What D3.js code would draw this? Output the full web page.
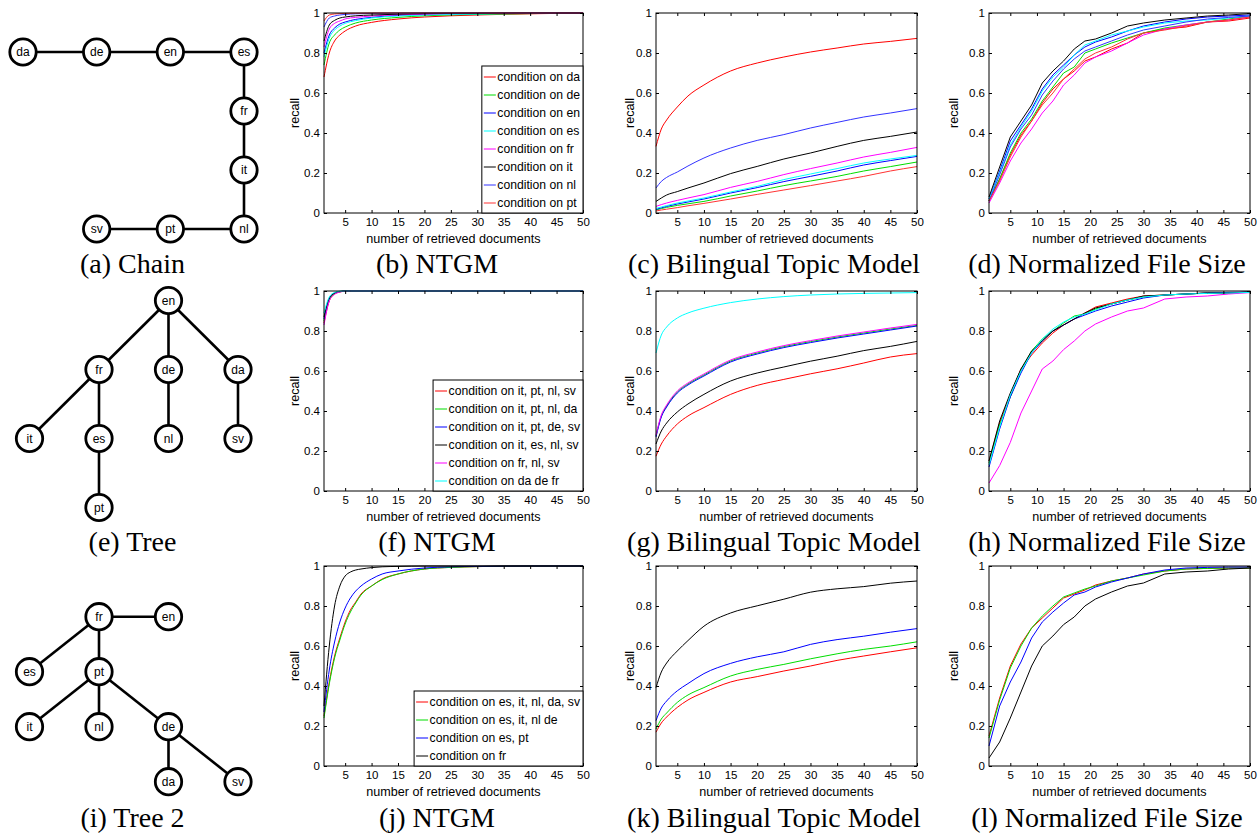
<!DOCTYPE html>
<html>
<head>
<meta charset="utf-8">
<script src="https://cdn.jsdelivr.net/npm/d3@7"></script>
<style>body{margin:0;background:#fff}</style>
</head>
<body>
<script>
// ---- data ----
const xTicks = [5, 10, 15, 20, 25, 30, 35, 40, 45, 50];
const yTicks = [0, 0.2, 0.4, 0.6, 0.8, 1];
const yTickLabels = ["0", "0.2", "0.4", "0.6", "0.8", "1"];

const captions = [
  ["(a) Chain", "(b) NTGM", "(c) Bilingual Topic Model", "(d) Normalized File Size"],
  ["(e) Tree", "(f) NTGM", "(g) Bilingual Topic Model", "(h) Normalized File Size"],
  ["(i) Tree 2", "(j) NTGM", "(k) Bilingual Topic Model", "(l) Normalized File Size"]
];

// language graphs
const chainNodes = ["da", "de", "en", "es", "fr", "it", "nl", "pt", "sv"];
const chainCol = [0, 1, 2, 3, 3, 3, 3, 2, 1];
const chainRow = [0, 0, 0, 0, 1, 2, 3, 3, 3];
const chainEdges = [["da", "de"], ["de", "en"], ["en", "es"], ["es", "fr"], ["fr", "it"], ["it", "nl"], ["nl", "pt"], ["pt", "sv"]];

const treeNodes = ["en", "fr", "de", "da", "it", "es", "nl", "sv", "pt"];
const treeCol = [2, 1, 2, 3, 0, 1, 2, 3, 1];
const treeRow = [0, 1, 1, 1, 2, 2, 2, 2, 3];
const treeEdges = [["en", "fr"], ["en", "de"], ["en", "da"], ["fr", "it"], ["fr", "es"], ["de", "nl"], ["da", "sv"], ["es", "pt"]];

const tree2Nodes = ["fr", "en", "es", "pt", "it", "nl", "de", "da", "sv"];
const tree2Col = [1, 2, 0, 1, 0, 1, 2, 2, 3];
const tree2Row = [0, 0, 1, 1, 2, 2, 2, 3, 3];
const tree2Edges = [["fr", "en"], ["fr", "es"], ["fr", "pt"], ["pt", "it"], ["pt", "nl"], ["pt", "de"], ["de", "da"], ["de", "sv"]];

// legend labels
const chainLabels = ["condition on da", "condition on de", "condition on en", "condition on es",
  "condition on fr", "condition on it", "condition on nl", "condition on pt"];
const treeLabels = ["condition on it, pt, nl, sv", "condition on it, pt, nl, da", "condition on it, pt, de, sv",
  "condition on it, es, nl, sv", "condition on fr, nl, sv", "condition on da de fr"];
const tree2Labels = ["condition on es, it, nl, da, sv", "condition on es, it, nl de", "condition on es, pt", "condition on fr"];

// x samples
const xsNtgm = [1, 2, 3, 4, 5, 7, 10, 15, 20, 30, 40, 50];
const xsNtgmTree = [1, 2, 3, 4, 5, 6, 8, 10, 20, 50];
const xsNtgmTree2 = [1, 2, 3, 4, 5, 6, 7, 8, 10, 12, 15, 20, 25, 30, 40, 50];
const xsBtm = [1, 2, 3, 5, 7, 10, 15, 20, 25, 30, 35, 40, 45, 50];
const xsFile = [1, 3, 5, 7, 9, 11, 13, 15, 17, 19, 21, 24, 27, 30, 34, 38, 42, 46, 50];

// (b) NTGM, chain
const ntgmChain = [
  [0.68, 0.80, 0.86, 0.89, 0.91, 0.935, 0.953, 0.97, 0.98, 0.99, 0.996, 1.0],
  [0.74, 0.85, 0.89, 0.915, 0.93, 0.95, 0.965, 0.978, 0.986, 0.993, 0.997, 1.0],
  [0.80, 0.89, 0.925, 0.945, 0.955, 0.968, 0.978, 0.988, 0.993, 0.997, 0.999, 1.0],
  [0.78, 0.875, 0.915, 0.935, 0.948, 0.962, 0.975, 0.985, 0.99, 0.995, 0.998, 1.0],
  [0.83, 0.92, 0.948, 0.96, 0.97, 0.978, 0.985, 0.991, 0.995, 0.998, 0.999, 1.0],
  [0.86, 0.94, 0.963, 0.975, 0.98, 0.986, 0.99, 0.994, 0.997, 0.999, 1.0, 1.0],
  [0.93, 0.975, 0.985, 0.99, 0.993, 0.996, 0.998, 0.999, 1.0, 1.0, 1.0, 1.0],
  [0.96, 0.99, 0.995, 0.997, 0.998, 0.999, 1.0, 1.0, 1.0, 1.0, 1.0, 1.0]
];
// (c) Bilingual Topic Model, chain
const btmChain = [
  [0.333, 0.42, 0.465, 0.53, 0.585, 0.64, 0.71, 0.75, 0.78, 0.805, 0.825, 0.845, 0.858, 0.873],
  [0.015, 0.022, 0.028, 0.038, 0.046, 0.058, 0.085, 0.11, 0.137, 0.16, 0.183, 0.21, 0.232, 0.255],
  [0.018, 0.026, 0.033, 0.045, 0.055, 0.07, 0.1, 0.127, 0.157, 0.183, 0.21, 0.24, 0.262, 0.283],
  [0.023, 0.03, 0.037, 0.05, 0.06, 0.075, 0.105, 0.133, 0.167, 0.195, 0.222, 0.25, 0.27, 0.288],
  [0.033, 0.042, 0.05, 0.063, 0.075, 0.092, 0.128, 0.158, 0.192, 0.222, 0.25, 0.28, 0.303, 0.328],
  [0.058, 0.075, 0.09, 0.107, 0.125, 0.15, 0.197, 0.233, 0.27, 0.3, 0.333, 0.363, 0.383, 0.405],
  [0.125, 0.158, 0.178, 0.205, 0.235, 0.275, 0.325, 0.363, 0.392, 0.425, 0.453, 0.48, 0.5, 0.522],
  [0.01, 0.015, 0.019, 0.027, 0.036, 0.048, 0.07, 0.093, 0.115, 0.137, 0.16, 0.183, 0.21, 0.232]
];
// (d) Normalized File Size, chain
const fileChain = [
  [0.06, 0.17, 0.29, 0.39, 0.46, 0.55, 0.62, 0.67, 0.71, 0.76, 0.78, 0.82, 0.85, 0.9, 0.92, 0.93, 0.955, 0.96, 0.975],
  [0.06, 0.17, 0.3, 0.4, 0.47, 0.56, 0.63, 0.7, 0.73, 0.8, 0.82, 0.85, 0.875, 0.9, 0.925, 0.94, 0.955, 0.97, 0.985],
  [0.07, 0.21, 0.36, 0.44, 0.52, 0.62, 0.69, 0.74, 0.79, 0.83, 0.855, 0.88, 0.91, 0.935, 0.955, 0.97, 0.98, 0.985, 0.99],
  [0.07, 0.2, 0.34, 0.43, 0.51, 0.61, 0.68, 0.73, 0.79, 0.84, 0.86, 0.89, 0.91, 0.93, 0.95, 0.96, 0.965, 0.975, 0.985],
  [0.05, 0.15, 0.26, 0.35, 0.42, 0.5, 0.56, 0.64, 0.69, 0.75, 0.78, 0.81, 0.85, 0.89, 0.92, 0.94, 0.955, 0.965, 0.98],
  [0.08, 0.23, 0.38, 0.46, 0.54, 0.65, 0.71, 0.76, 0.82, 0.86, 0.87, 0.9, 0.935, 0.95, 0.965, 0.975, 0.985, 0.99, 0.997],
  [0.06, 0.19, 0.33, 0.42, 0.49, 0.59, 0.66, 0.72, 0.77, 0.81, 0.83, 0.86, 0.89, 0.915, 0.935, 0.955, 0.97, 0.978, 0.985],
  [0.06, 0.16, 0.28, 0.38, 0.46, 0.54, 0.6, 0.67, 0.72, 0.77, 0.8, 0.83, 0.87, 0.9, 0.915, 0.935, 0.955, 0.965, 0.98]
];
// (f) NTGM, tree
const ntgmTree = [
  [0.84, 0.95, 0.985, 0.995, 1, 1, 1, 1, 1, 1],
  [0.85, 0.955, 0.987, 0.996, 1, 1, 1, 1, 1, 1],
  [0.86, 0.96, 0.99, 0.997, 1, 1, 1, 1, 1, 1],
  [0.87, 0.965, 0.99, 0.998, 1, 1, 1, 1, 1, 1],
  [0.83, 0.95, 0.983, 0.995, 0.999, 1, 1, 1, 1, 1],
  [0.89, 0.97, 0.993, 0.999, 1, 1, 1, 1, 1, 1]
];
// (g) Bilingual Topic Model, tree
const btmTree = [
  [0.174, 0.235, 0.275, 0.335, 0.375, 0.417, 0.483, 0.528, 0.558, 0.586, 0.611, 0.64, 0.67, 0.687],
  [0.275, 0.375, 0.425, 0.495, 0.535, 0.58, 0.65, 0.69, 0.722, 0.747, 0.77, 0.79, 0.81, 0.828],
  [0.27, 0.37, 0.42, 0.49, 0.53, 0.575, 0.645, 0.685, 0.717, 0.742, 0.765, 0.785, 0.805, 0.825],
  [0.235, 0.3, 0.34, 0.395, 0.435, 0.483, 0.55, 0.59, 0.62, 0.649, 0.674, 0.702, 0.723, 0.748],
  [0.28, 0.38, 0.43, 0.5, 0.54, 0.585, 0.655, 0.695, 0.727, 0.752, 0.775, 0.795, 0.815, 0.833],
  [0.69, 0.78, 0.82, 0.865, 0.89, 0.914, 0.942, 0.96, 0.972, 0.98, 0.985, 0.988, 0.99, 0.992]
];
// (h) Normalized File Size, tree
const fileTree = [
  [0.15, 0.34, 0.48, 0.61, 0.68, 0.74, 0.79, 0.83, 0.86, 0.89, 0.92, 0.94, 0.96, 0.975, 0.98, 0.985, 0.99, 0.99, 0.995],
  [0.14, 0.33, 0.47, 0.6, 0.7, 0.76, 0.8, 0.84, 0.875, 0.885, 0.91, 0.935, 0.955, 0.97, 0.98, 0.985, 0.99, 0.99, 0.995],
  [0.12, 0.31, 0.47, 0.59, 0.69, 0.75, 0.8, 0.83, 0.86, 0.88, 0.9, 0.925, 0.945, 0.965, 0.98, 0.985, 0.99, 0.993, 0.995],
  [0.15, 0.35, 0.49, 0.61, 0.7, 0.75, 0.8, 0.83, 0.86, 0.89, 0.915, 0.935, 0.955, 0.975, 0.98, 0.985, 0.99, 0.99, 0.995],
  [0.04, 0.127, 0.243, 0.39, 0.5, 0.61, 0.65, 0.707, 0.75, 0.8, 0.835, 0.87, 0.9, 0.915, 0.96, 0.97, 0.975, 0.985, 0.992],
  [0.13, 0.32, 0.48, 0.6, 0.69, 0.76, 0.81, 0.845, 0.87, 0.885, 0.905, 0.935, 0.955, 0.97, 0.98, 0.985, 0.988, 0.99, 0.993]
];
// (j) NTGM, tree 2
const ntgmTree2 = [
  [0.25, 0.42, 0.55, 0.64, 0.72, 0.78, 0.82, 0.86, 0.9, 0.935, 0.96, 0.985, 0.993, 0.997, 1, 1],
  [0.24, 0.41, 0.54, 0.63, 0.71, 0.77, 0.815, 0.855, 0.9, 0.932, 0.96, 0.985, 0.993, 0.997, 1, 1],
  [0.27, 0.48, 0.62, 0.72, 0.79, 0.84, 0.875, 0.9, 0.935, 0.96, 0.975, 0.99, 0.996, 0.998, 1, 1],
  [0.3, 0.6, 0.8, 0.9, 0.95, 0.97, 0.98, 0.985, 0.992, 0.996, 0.998, 1, 1, 1, 1, 1]
];
// (k) Bilingual Topic Model, tree 2
const btmTree2 = [
  [0.169, 0.215, 0.245, 0.293, 0.33, 0.368, 0.42, 0.447, 0.475, 0.5, 0.528, 0.55, 0.571, 0.591],
  [0.185, 0.235, 0.265, 0.318, 0.355, 0.392, 0.45, 0.483, 0.508, 0.536, 0.561, 0.583, 0.6, 0.621],
  [0.227, 0.29, 0.325, 0.376, 0.412, 0.462, 0.513, 0.546, 0.571, 0.608, 0.632, 0.649, 0.669, 0.687],
  [0.392, 0.47, 0.515, 0.575, 0.627, 0.699, 0.765, 0.801, 0.834, 0.869, 0.886, 0.897, 0.914, 0.925]
];
// (l) Normalized File Size, tree 2
const fileTree2 = [
  [0.15, 0.34, 0.5, 0.61, 0.69, 0.74, 0.79, 0.84, 0.86, 0.88, 0.905, 0.925, 0.94, 0.96, 0.975, 0.985, 0.988, 0.99, 0.99],
  [0.14, 0.33, 0.49, 0.6, 0.69, 0.75, 0.8, 0.845, 0.865, 0.885, 0.9, 0.925, 0.94, 0.955, 0.975, 0.985, 0.988, 0.99, 0.99],
  [0.1, 0.3, 0.42, 0.52, 0.64, 0.72, 0.77, 0.815, 0.855, 0.87, 0.895, 0.92, 0.94, 0.96, 0.98, 0.99, 0.993, 0.995, 0.995],
  [0.04, 0.12, 0.24, 0.37, 0.5, 0.6, 0.65, 0.707, 0.745, 0.8, 0.835, 0.87, 0.9, 0.915, 0.96, 0.97, 0.975, 0.985, 0.99]
];

// ---- styles / layout ----
const chainColors = ["#ff0000", "#00dd00", "#0000ff", "#00ffff", "#ff00ff", "#000000", "#3333ff", "#ff3333"];
const treeColors = ["#ff0000", "#00dd00", "#0000ff", "#000000", "#ff00ff", "#00ffff"];
const tree2Colors = ["#ff0000", "#00dd00", "#0000ff", "#000000"];

const W = 1258, H = 835;
const colX = [[324, 583], [656, 917], [989, 1250]];
const rowTop = [13, 291, 566];
const plotH = 200;
const ylabOff = [25.5, 22.5, 31.5];
const capX = [132.5, 437, 774, 1107];
const capY = [273, 551, 827];
const sans = "'Liberation Sans', Arial, Helvetica, sans-serif";

const svg = d3.select("body").append("svg")
  .attr("width", W).attr("height", H)
  .style("font-family", sans);
svg.append("rect").attr("width", W).attr("height", H).attr("fill", "#fff");

function chart(row, col, xs, values, colors, labels, curve) {
  const [x0, x1] = colX[col];
  const top = rowTop[row], bottom = top + plotH;
  const x = d3.scaleLinear().domain([1, 50]).range([x0, x1]);
  const y = d3.scaleLinear().domain([0, 1]).range([bottom, top]);
  const g = svg.append("g");

  const line = d3.line().x(d => x(d[0])).y(d => y(d[1])).curve(curve);
  values.forEach((v, i) => {
    g.append("path")
      .datum(d3.zip(xs, v))
      .attr("d", line)
      .attr("fill", "none")
      .attr("stroke", colors[i])
      .attr("stroke-width", 1);
  });

  const styleAxis = a => {
    a.select(".domain").remove();
    a.attr("font-family", null).attr("font-size", null);
    a.selectAll("line").attr("stroke", "#000");
    a.selectAll("text").attr("fill", "#000").style("font-size", "11.5px");
  };

  g.append("g").attr("transform", `translate(0,${bottom})`)
    .call(d3.axisBottom(x).tickValues(xTicks).tickSize(-3).tickPadding(5))
    .call(styleAxis);
  g.append("g").attr("transform", `translate(0,${top})`)
    .call(d3.axisTop(x).tickValues(xTicks).tickSize(-3).tickFormat(""))
    .call(styleAxis);
  g.append("g").attr("transform", `translate(${x0},0)`)
    .call(d3.axisLeft(y).tickValues(yTicks).tickSize(-3).tickPadding(4)
      .tickFormat((d, i) => yTickLabels[i]))
    .call(styleAxis);
  g.append("g").attr("transform", `translate(${x1},0)`)
    .call(d3.axisRight(y).tickValues(yTicks).tickSize(-3).tickFormat(""))
    .call(styleAxis);

  g.append("rect")
    .attr("x", x0).attr("y", top).attr("width", x1 - x0).attr("height", plotH)
    .attr("fill", "none").attr("stroke", "#000").attr("stroke-width", 1);

  g.append("text")
    .attr("x", (x0 + x1) / 2).attr("y", bottom + 30)
    .attr("text-anchor", "middle").style("font-size", "12.6px")
    .text("number of retrieved documents");
  g.append("text")
    .attr("transform", `translate(${x0 - ylabOff[col]},${(top + bottom) / 2}) rotate(-90)`)
    .attr("text-anchor", "middle").style("font-size", "12.6px")
    .text("recall");

  if (labels) {
    const lg = g.append("g");
    const box = lg.append("rect");
    const texts = lg.selectAll("text").data(labels).join("text")
      .style("font-size", "12.2px")
      .attr("dy", "0.35em")
      .text(d => d);
    let tw = 0;
    texts.each(function () { tw = Math.max(tw, this.getComputedTextLength()); });
    const bx = x1 - tw - 18.5;
    const bh = labels.length * 18 + 3;
    const by = bottom - bh;
    box.attr("x", bx).attr("y", by).attr("width", x1 - bx).attr("height", bh)
      .attr("fill", "#fff").attr("stroke", "#000").attr("stroke-width", 1);
    texts.attr("x", bx + 15.5).attr("y", (d, i) => by + 11 + 18 * i);
    lg.selectAll("line").data(labels).join("line")
      .attr("x1", bx + 2).attr("x2", bx + 14)
      .attr("y1", (d, i) => by + 11 + 18 * i).attr("y2", (d, i) => by + 11 + 18 * i)
      .attr("stroke", (d, i) => colors[i]).attr("stroke-width", 1);
  }
}

function graph(nodes, cols, rows, edges, xr, yr) {
  const x = d3.scaleLinear().domain([0, 3]).range(xr);
  const y = d3.scaleLinear().domain([0, 3]).range(yr);
  const pos = {};
  nodes.forEach((n, i) => { pos[n] = [x(cols[i]), y(rows[i])]; });
  const g = svg.append("g");
  g.selectAll("line").data(edges).join("line")
    .attr("x1", d => pos[d[0]][0]).attr("y1", d => pos[d[0]][1])
    .attr("x2", d => pos[d[1]][0]).attr("y2", d => pos[d[1]][1])
    .attr("stroke", "#000").attr("stroke-width", 2.6);
  const ng = g.selectAll("g").data(nodes).join("g")
    .attr("transform", d => `translate(${pos[d][0]},${pos[d][1]})`);
  ng.append("circle").attr("r", 13.2).attr("fill", "#fff")
    .attr("stroke", "#000").attr("stroke-width", 2.8);
  ng.append("text").attr("text-anchor", "middle").attr("dy", "0.36em")
    .style("font-size", "12px").text(d => d);
}

graph(chainNodes, chainCol, chainRow, chainEdges, [23, 244], [52, 229]);
graph(treeNodes, treeCol, treeRow, treeEdges, [29.5, 238], [300.5, 507.5]);
graph(tree2Nodes, tree2Col, tree2Row, tree2Edges, [29.5, 238], [616.7, 781.7]);

chart(0, 0, xsNtgm, ntgmChain, chainColors, chainLabels, d3.curveMonotoneX);
chart(0, 1, xsBtm, btmChain, chainColors, null, d3.curveMonotoneX);
chart(0, 2, xsFile, fileChain, chainColors, null, d3.curveLinear);
chart(1, 0, xsNtgmTree, ntgmTree, treeColors, treeLabels, d3.curveMonotoneX);
chart(1, 1, xsBtm, btmTree, treeColors, null, d3.curveMonotoneX);
chart(1, 2, xsFile, fileTree, treeColors, null, d3.curveLinear);
chart(2, 0, xsNtgmTree2, ntgmTree2, tree2Colors, tree2Labels, d3.curveMonotoneX);
chart(2, 1, xsBtm, btmTree2, tree2Colors, null, d3.curveMonotoneX);
chart(2, 2, xsFile, fileTree2, tree2Colors, null, d3.curveLinear);

captions.forEach((row, r) => row.forEach((c, k) => {
  svg.append("text")
    .attr("x", capX[k]).attr("y", capY[r])
    .attr("text-anchor", "middle")
    .style("font-family", "'Liberation Serif', 'Times New Roman', serif")
    .style("font-size", "28px")
    .text(c);
}));
</script>
</body>
</html>
